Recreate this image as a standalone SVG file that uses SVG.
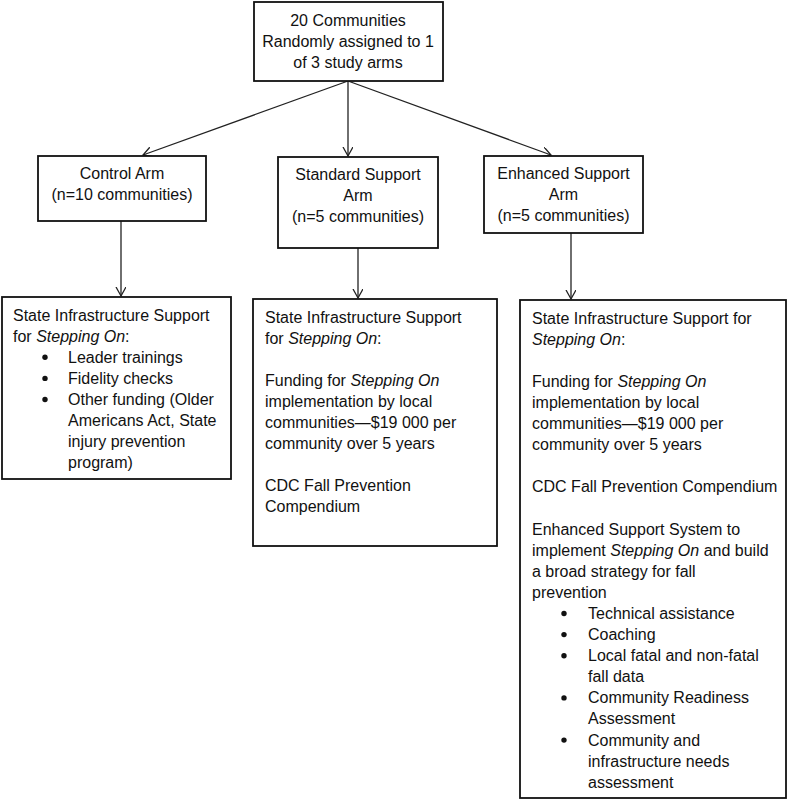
<svg xmlns="http://www.w3.org/2000/svg" width="790" height="800" viewBox="0 0 790 800">
<style>
.box{fill:#fff;stroke:#111;stroke-width:1.8}
.t{font-family:"Liberation Sans",Arial,sans-serif;font-size:16px;fill:#111}
.c{text-anchor:middle}
.i{font-style:italic}
.ln{stroke:#222;stroke-width:1.3;fill:none}
</style>
<defs>
<marker id="ah" markerUnits="userSpaceOnUse" markerWidth="12" markerHeight="12" refX="9" refY="5" orient="auto">
<path d="M0,0 L9,5 L0,10" fill="none" stroke="#222" stroke-width="1.3"/>
</marker>
</defs>
<rect width="790" height="800" fill="#fff"/>
<g id="connectors">
<line class="ln" x1="348" y1="81" x2="143" y2="155" marker-end="url(#ah)"/>
<line class="ln" x1="348" y1="81" x2="348" y2="156" marker-end="url(#ah)"/>
<line class="ln" x1="348" y1="81" x2="551" y2="155" marker-end="url(#ah)"/>
<line class="ln" x1="121" y1="221" x2="121" y2="296" marker-end="url(#ah)"/>
<line class="ln" x1="358" y1="248" x2="358" y2="298" marker-end="url(#ah)"/>
<line class="ln" x1="571" y1="233" x2="571" y2="299" marker-end="url(#ah)"/>
</g>
<g id="top">
<rect class="box" x="254" y="2" width="189" height="79"/>
<text class="t c" x="348" y="26">20 Communities</text>
<text class="t c" x="348" y="47">Randomly assigned to 1</text>
<text class="t c" x="348" y="68">of 3 study arms</text>
</g>
<g id="control">
<rect class="box" x="38" y="156" width="168" height="65"/>
<text class="t c" x="122" y="179">Control Arm</text>
<text class="t c" x="122" y="200">(n=10 communities)</text>
</g>
<g id="standard">
<rect class="box" x="278" y="157" width="160" height="91"/>
<text class="t c" x="358" y="180">Standard Support</text>
<text class="t c" x="358" y="201">Arm</text>
<text class="t c" x="358" y="222">(n=5 communities)</text>
</g>
<g id="enhanced">
<rect class="box" x="484" y="156" width="159" height="77"/>
<text class="t c" x="563.5" y="179">Enhanced Support</text>
<text class="t c" x="563.5" y="200">Arm</text>
<text class="t c" x="563.5" y="221">(n=5 communities)</text>
</g>
<g id="control-support">
<rect class="box" x="2" y="297" width="229" height="182"/>
<text class="t" x="13" y="320.5">State Infrastructure Support</text>
<text class="t" x="13" y="341.6">for <tspan class="i">Stepping On</tspan>:</text>
<circle cx="45" cy="357.3" r="2.7" fill="#111"/>
<text class="t" x="68" y="362.7">Leader trainings</text>
<circle cx="45" cy="378.4" r="2.7" fill="#111"/>
<text class="t" x="68" y="383.8">Fidelity checks</text>
<circle cx="45" cy="399.5" r="2.7" fill="#111"/>
<text class="t" x="68" y="404.9">Other funding (Older</text>
<text class="t" x="68" y="426">Americans Act, State</text>
<text class="t" x="68" y="447.1">injury prevention</text>
<text class="t" x="68" y="468.2">program)</text>
</g>
<g id="standard-support">
<rect class="box" x="253" y="299" width="244" height="247"/>
<text class="t" x="265" y="322.5">State Infrastructure Support</text>
<text class="t" x="265" y="343.6">for <tspan class="i">Stepping On</tspan>:</text>
<text class="t" x="265" y="385.8">Funding for <tspan class="i">Stepping On</tspan></text>
<text class="t" x="265" y="406.9">implementation by local</text>
<text class="t" x="265" y="428">communities—$19 000 per</text>
<text class="t" x="265" y="449.1">community over 5 years</text>
<text class="t" x="265" y="491.3">CDC Fall Prevention</text>
<text class="t" x="265" y="512.4">Compendium</text>
</g>
<g id="enhanced-support">
<rect class="box" x="520" y="300" width="266" height="498"/>
<text class="t" x="532" y="323.5">State Infrastructure Support for</text>
<text class="t" x="532" y="344.6"><tspan class="i">Stepping On</tspan>:</text>
<text class="t" x="532" y="386.8">Funding for <tspan class="i">Stepping On</tspan></text>
<text class="t" x="532" y="407.9">implementation by local</text>
<text class="t" x="532" y="429">communities—$19 000 per</text>
<text class="t" x="532" y="450.1">community over 5 years</text>
<text class="t" x="532" y="492.3">CDC Fall Prevention Compendium</text>
<text class="t" x="532" y="534.5">Enhanced Support System to</text>
<text class="t" x="532" y="555.6">implement <tspan class="i">Stepping On</tspan> and build</text>
<text class="t" x="532" y="576.7">a broad strategy for fall</text>
<text class="t" x="532" y="597.8">prevention</text>
<circle cx="564" cy="613.5" r="2.7" fill="#111"/>
<text class="t" x="588" y="618.9">Technical assistance</text>
<circle cx="564" cy="634.6" r="2.7" fill="#111"/>
<text class="t" x="588" y="640">Coaching</text>
<circle cx="564" cy="655.7" r="2.7" fill="#111"/>
<text class="t" x="588" y="661.1">Local fatal and non-fatal</text>
<text class="t" x="588" y="682.2">fall data</text>
<circle cx="564" cy="697.9" r="2.7" fill="#111"/>
<text class="t" x="588" y="703.3">Community Readiness</text>
<text class="t" x="588" y="724.4">Assessment</text>
<circle cx="564" cy="740.1" r="2.7" fill="#111"/>
<text class="t" x="588" y="745.5">Community and</text>
<text class="t" x="588" y="766.6">infrastructure needs</text>
<text class="t" x="588" y="787.7">assessment</text>
</g>
</svg>
